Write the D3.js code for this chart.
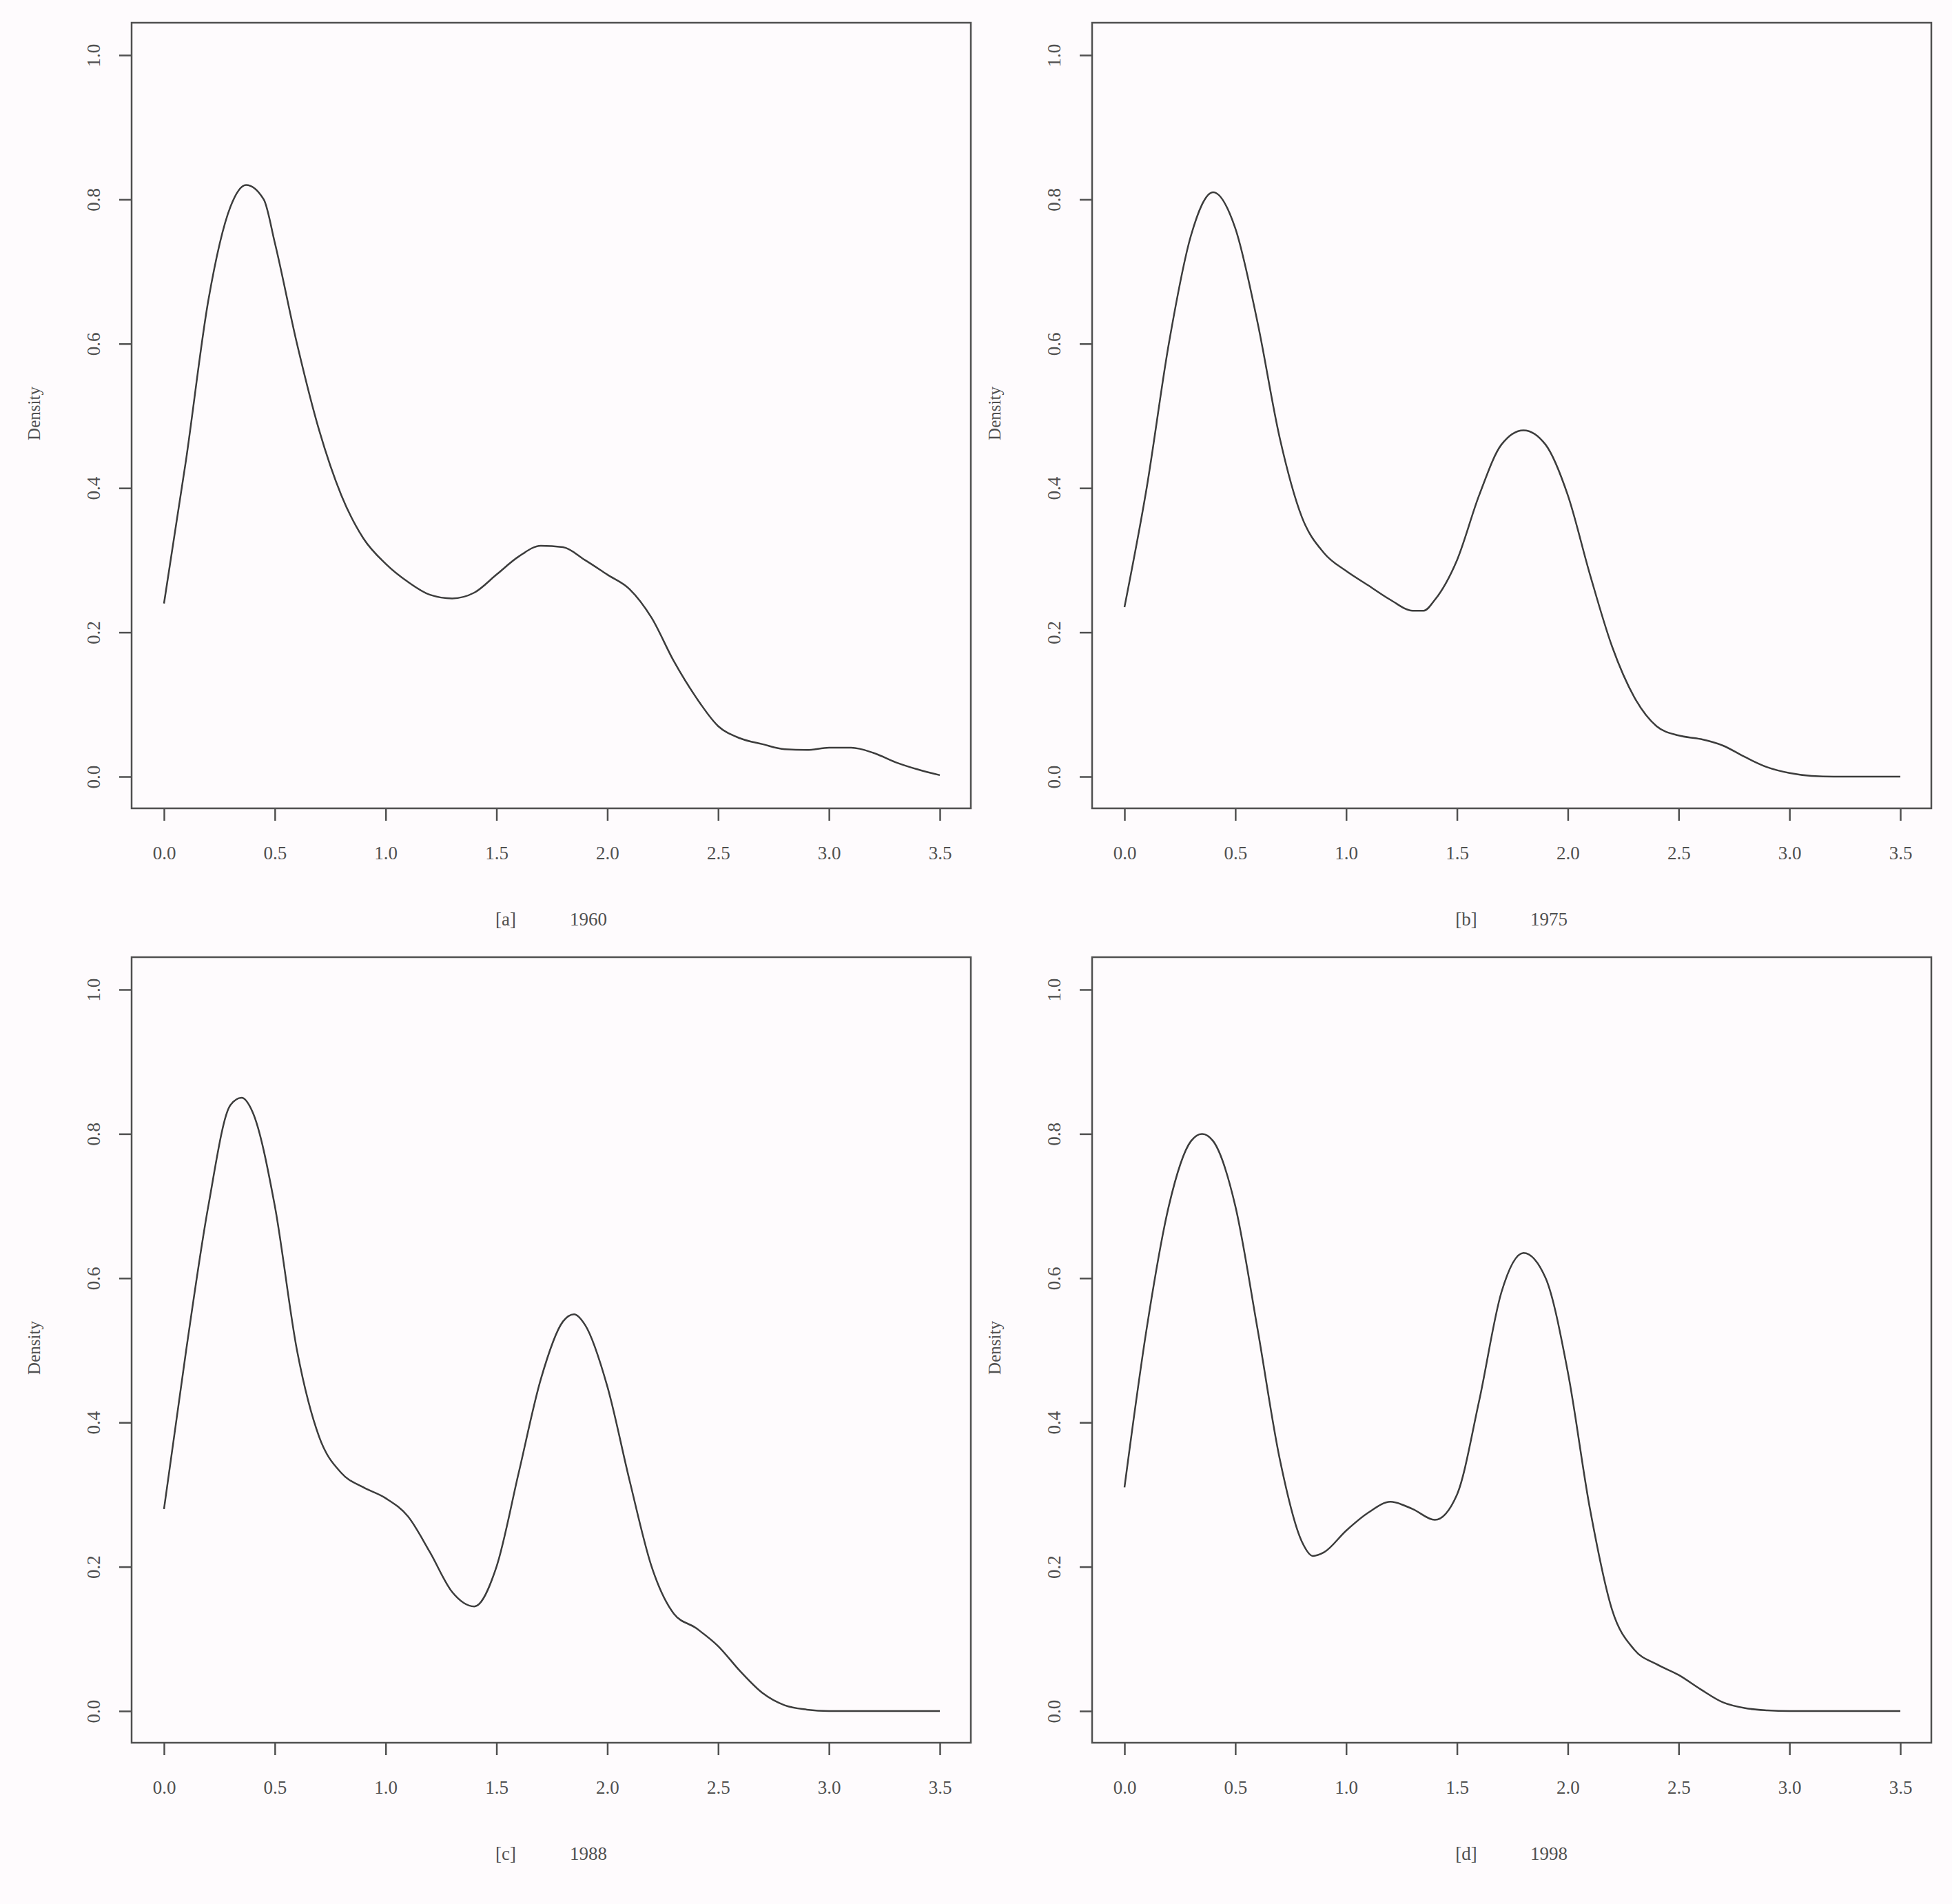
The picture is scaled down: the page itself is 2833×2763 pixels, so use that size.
<!DOCTYPE html>
<html><head><meta charset="utf-8">
<script src="https://cdn.jsdelivr.net/npm/d3@7"></script>
<style>body{margin:0;background:#fff}</style>
</head><body>
<script>
const xs1960 = [0,0.1,0.2,0.3,0.37,0.45,0.5,0.6,0.7,0.8,0.9,1.0,1.1,1.2,1.3,1.4,1.5,1.6,1.7,1.8,1.9,2.0,2.1,2.2,2.3,2.4,2.5,2.6,2.7,2.8,2.9,3.0,3.1,3.2,3.3,3.4,3.5];
const ys1960 = [0.24,0.44,0.66,0.79,0.82,0.8,0.74,0.6,0.48,0.39,0.33,0.295,0.27,0.252,0.247,0.255,0.28,0.305,0.32,0.318,0.3,0.28,0.26,0.22,0.16,0.11,0.07,0.053,0.045,0.038,0.037,0.04,0.04,0.033,0.02,0.01,0.002];
const xs1975 = [0,0.1,0.2,0.3,0.4,0.5,0.6,0.7,0.8,0.9,1.0,1.1,1.2,1.3,1.35,1.4,1.5,1.6,1.7,1.8,1.9,2.0,2.1,2.2,2.3,2.4,2.5,2.6,2.7,2.8,2.9,3.0,3.1,3.2,3.3,3.4,3.5];
const ys1975 = [0.235,0.4,0.6,0.75,0.81,0.76,0.63,0.47,0.36,0.31,0.285,0.265,0.245,0.23,0.23,0.245,0.3,0.39,0.46,0.48,0.46,0.39,0.28,0.18,0.11,0.07,0.057,0.052,0.043,0.027,0.013,0.005,0.001,0,0,0,0];
const xs1988 = [0,0.1,0.2,0.3,0.35,0.4,0.5,0.6,0.7,0.8,0.9,1.0,1.1,1.2,1.3,1.4,1.5,1.6,1.7,1.8,1.85,1.9,2.0,2.1,2.2,2.3,2.4,2.5,2.6,2.7,2.8,2.9,3.0,3.1,3.2,3.3,3.4,3.5];
const ys1988 = [0.28,0.5,0.7,0.84,0.85,0.83,0.7,0.5,0.38,0.33,0.31,0.295,0.27,0.22,0.165,0.145,0.2,0.33,0.46,0.54,0.55,0.535,0.45,0.32,0.2,0.135,0.115,0.09,0.055,0.025,0.008,0.002,0,0,0,0,0,0];
const xs1998 = [0,0.1,0.2,0.3,0.35,0.4,0.5,0.6,0.7,0.8,0.85,0.9,1.0,1.1,1.2,1.3,1.4,1.5,1.6,1.7,1.8,1.9,2.0,2.1,2.2,2.3,2.4,2.5,2.6,2.7,2.8,2.9,3.0,3.1,3.2,3.3,3.4,3.5];
const ys1998 = [0.31,0.53,0.7,0.79,0.8,0.79,0.7,0.53,0.35,0.235,0.215,0.22,0.25,0.275,0.29,0.28,0.265,0.3,0.43,0.58,0.635,0.6,0.47,0.28,0.14,0.085,0.065,0.05,0.03,0.012,0.004,0.001,0,0,0,0,0,0];
const xTicks = [0,0.5,1.0,1.5,2.0,2.5,3.0,3.5];
const yTicks = [0,0.2,0.4,0.6,0.8,1.0];
const panels = [
  {tag:"[a]", year:"1960", xs:xs1960, ys:ys1960, ox:0, oy:0},
  {tag:"[b]", year:"1975", xs:xs1975, ys:ys1975, ox:1394, oy:0},
  {tag:"[c]", year:"1988", xs:xs1988, ys:ys1988, ox:0, oy:1356},
  {tag:"[d]", year:"1998", xs:xs1998, ys:ys1998, ox:1394, oy:1356}
];

const W = 2833, H = 2763;
const svg = d3.select("body").append("svg").attr("width", W).attr("height", H);
svg.append("rect").attr("width", W).attr("height", H).attr("fill", "#fefbfd");

const ink = "#505050";
const font = "Liberation Serif, serif";

panels.forEach(p => {
  const g = svg.append("g").attr("transform", `translate(${p.ox},${p.oy})`);
  const x = d3.scaleLinear().domain([0, 3.5]).range([238, 1364]);
  const y = d3.scaleLinear().domain([0, 1]).range([1127, 80]);

  g.append("rect").attr("x", 191).attr("y", 33).attr("width", 1218).attr("height", 1140)
    .attr("fill", "none").attr("stroke", ink).attr("stroke-width", 2.5);

  const xAxis = g.append("g").attr("transform", "translate(0,1173)")
    .call(d3.axisBottom(x).tickValues(xTicks).tickFormat(d3.format(".1f")).tickSize(18).tickSizeOuter(0));
  const yAxis = g.append("g").attr("transform", "translate(191,0)")
    .call(d3.axisLeft(y).tickValues(yTicks).tickFormat(d3.format(".1f")).tickSize(18).tickSizeOuter(0));
  [xAxis, yAxis].forEach(a => {
    a.select(".domain").remove();
    a.selectAll("line").attr("stroke", ink).attr("stroke-width", 2.5);
    a.selectAll("text").attr("fill", ink).attr("font-family", font).attr("font-size", 27);
  });
  xAxis.selectAll("text").attr("dy", "1.95em");
  yAxis.selectAll(".tick text")
    .attr("text-anchor", "middle")
    .attr("transform", "translate(-55,0) rotate(-90)")
    .attr("x", 0).attr("y", 0).attr("dy", "0.35em");

  g.append("text").attr("transform", "translate(49,600) rotate(-90)")
    .attr("text-anchor", "middle").attr("dy", "0.35em")
    .attr("fill", ink).attr("font-family", font).attr("font-size", 25).text("Density");

  g.append("text").attr("x", 734).attr("y", 1343).attr("text-anchor", "middle")
    .attr("fill", ink).attr("font-family", font).attr("font-size", 27).text(p.tag);
  g.append("text").attr("x", 854).attr("y", 1343).attr("text-anchor", "middle")
    .attr("fill", ink).attr("font-family", font).attr("font-size", 27).text(p.year);

  const pts = p.xs.map((v, i) => [v, p.ys[i]]);
  g.append("path").datum(pts)
    .attr("d", d3.line().x(d => x(d[0])).y(d => y(d[1])).curve(d3.curveMonotoneX))
    .attr("fill", "none").attr("stroke", "#3c3c3c").attr("stroke-width", 2.5);
});
</script>
</body></html>
